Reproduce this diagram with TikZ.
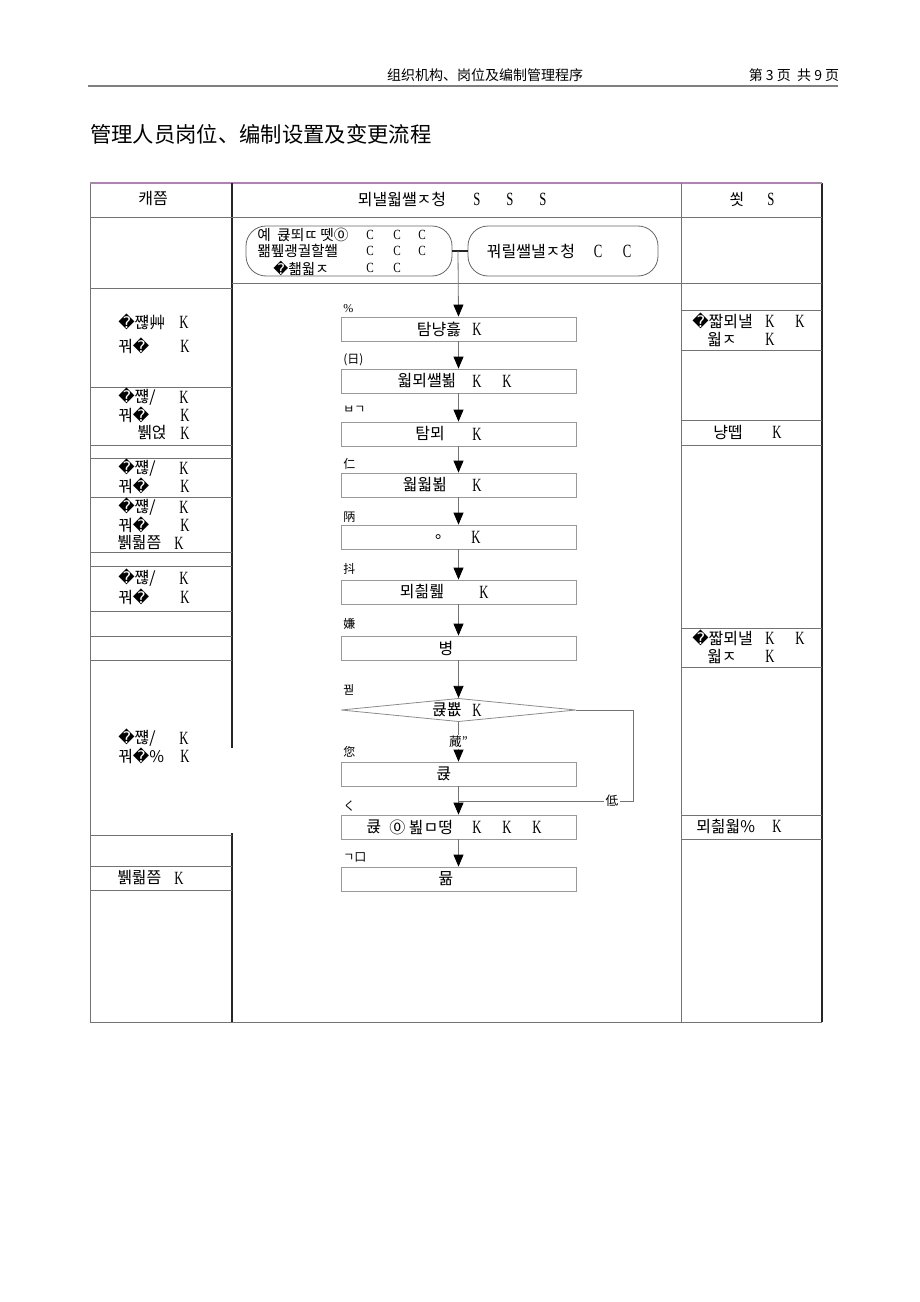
\documentclass[tikz,border=0pt]{standalone}
\usepackage{fontspec}
\usepackage{graphicx}
\setmainfont{Noto Sans CJK KR}
\newfontfamily\zhf{Noto Sans CJK SC}
\newfontfamily\serf{Liberation Serif}
\newfontfamily\dvs{DejaVu Sans}
\usetikzlibrary{arrows.meta,shapes.geometric}
\newcommand\cn[1]{{\serf\fontsize{14}{15}\selectfont\scalebox{0.68}[1]{#1}}}
\newcommand\cs[1]{{\serf\fontsize{10.5}{11}\selectfont\scalebox{0.8}[1]{#1}}}
\newcommand\rpl{{\dvs\symbol{"FFFD}}}
\newcommand\zc{\symbol{"24EA}}
\newcounter{tn}
\newcommand\tx[4][]{\stepcounter{tn}\node[txt,#1] (t\arabic{tn}) at (#2,#3) {#4};}
\definecolor{tbc}{RGB}{175,130,175}
\tikzset{
 txt/.style={inner sep=0pt,font=\fontsize{12}{13}\selectfont},
 ptx/.style={font=\fontsize{11}{12}\selectfont},
 lab/.style={anchor=west,font=\fontsize{9}{10}\selectfont},
 grid/.style={draw=black!55,line width=0.6pt},
 dark/.style={draw=black!85,line width=0.8pt},
 fbox/.style={draw=black!40,line width=0.6pt,minimum width=176.25pt,minimum height=18pt,inner sep=0pt},
 pill/.style={draw=black!60,line width=0.6pt,rounded corners=15pt,inner sep=0pt,minimum height=37.5pt},
 flow/.style={draw=black!55,line width=0.6pt,-{Triangle[length=9pt,width=7.5pt,color=black]}},
 fl/.style={draw=black!55,line width=0.6pt},
}
\begin{document}
\begin{tikzpicture}[x=0.75pt,y=-0.75pt]
\fill[white] (0,0) rectangle (920,1302);
\useasboundingbox (0,0) rectangle (920,1302);
% page header
\node[txt,font=\zhf\fontsize{10.5}{12}\selectfont] (hd) at (485,75) {组织机构、岗位及编制管理程序};
\node[txt,font=\zhf\fontsize{10.5}{12}\selectfont] (pg) at (794,75) {第 3 页\ \ 共 9 页};
\coordinate (hl) at (88,86); \coordinate (hr) at (838,86);
\draw[black!50,line width=1.5pt] (hl) -- (hr);
\node[txt,anchor=west,font=\zhf\fontsize{16}{18}\selectfont] (title) at (90,134) {管理人员岗位、编制设置及变更流程};
% table frame
\draw[grid] (90,183) -- (90,1022) -- (822,1022);
\draw[dark] (822,183) -- (822,1022);
\draw[draw=tbc,line width=0.8pt] (90,183) -- (822,183);
\draw[dark] (232,183) -- (232,748);
\draw[dark] (232,833) -- (232,1022);
\draw[grid] (681,183) -- (681,1022);
\draw[grid] (90,217) -- (822,217);
\draw[grid] (232,283) -- (822,283);
\foreach \y in {288,387,445,458,497,552,566,611,636,660,835,866,890} \draw[grid] (90,\y) -- (232,\y);
\foreach \y in {310,350,420,445,628,667,815,839} \draw[grid] (681,\y) -- (822,\y);
% header row
\tx{153}{199}{캐쯤}
\tx{402}{199}{뫼낼웗쌜ㅈ청}
\tx{477}{199}{\cn{S}}
\tx{510}{199}{\cn{S}}
\tx{543}{199}{\cn{S}}
\tx{737}{199}{쐿}
\tx{771}{199}{\cn{S}}
% pills
\node[pill,minimum width=154.5pt] (p1) at (349,251) {};
\node[pill,minimum width=142.5pt] (p2) at (563,251) {};
\coordinate (j) at (458,251);
\draw[dark] (p1.east) -- (p2.west);
\tx[anchor=west,ptx]{257}{235}{예\hspace{5pt}큕뙤ㄸ\,뗏\zc}
\tx[anchor=west,ptx]{257}{251}{뫪퓊괭궐할쐘}
\tx[anchor=west,ptx]{273}{268}{\rpl 쵊웗ㅈ}
\foreach \xx in {370,397,422} {\tx{\xx}{235}{\cs{C}}}
\foreach \xx in {370,397,422} {\tx{\xx}{251}{\cs{C}}}
\foreach \xx in {370,397} {\tx{\xx}{268}{\cs{C}}}
\tx{531}{251}{꿔릴쌜낼ㅈ청}
\tx{598}{251}{\cn{C}}
\tx{627}{251}{\cn{C}}
% left column texts
\tx[anchor=west]{118}{322}{\rpl 쨶艸}
\tx{184}{322}{\cn{K}}
\tx[anchor=west]{118}{346}{꿔\rpl}
\tx{185}{346}{\cn{K}}
\tx[anchor=west]{118}{397}{\rpl 쨶/}
\tx{184}{397}{\cn{K}}
\tx[anchor=west]{118}{415}{꿔\rpl}
\tx{185}{415}{\cn{K}}
\tx[anchor=west]{137}{433}{뷁얹}
\tx{185}{433}{\cn{K}}
\tx[anchor=west]{118}{468}{\rpl 쨶/}
\tx{184}{468}{\cn{K}}
\tx[anchor=west]{118}{486}{꿔\rpl}
\tx{185}{486}{\cn{K}}
\tx[anchor=west]{118}{507}{\rpl 쨶/}
\tx{184}{507}{\cn{K}}
\tx[anchor=west]{118}{525}{꿔\rpl}
\tx{185}{525}{\cn{K}}
\tx[anchor=west]{117}{543}{뷁뤎쯤}
\tx{179}{543}{\cn{K}}
\tx[anchor=west]{118}{578}{\rpl 쨶/}
\tx{184}{578}{\cn{K}}
\tx[anchor=west]{118}{597}{꿔\rpl}
\tx{185}{597}{\cn{K}}
\tx[anchor=west]{118}{738}{\rpl 쨶/}
\tx{184}{738}{\cn{K}}
\tx[anchor=west]{118}{756}{꿔\rpl\%}
\tx{185}{756}{\cn{K}}
\tx[anchor=west]{117}{878}{뷁뤎쯤}
\tx{179}{878}{\cn{K}}
% right column texts
\tx[anchor=west]{692}{321}{\rpl 짧뫼낼}
\tx{770}{321}{\cn{K}}
\tx{800}{321}{\cn{K}}
\tx[anchor=west]{707}{339}{웗ㅈ}
\tx{770}{339}{\cn{K}}
\tx[anchor=west]{713}{432}{냥뗍}
\tx{777}{432}{\cn{K}}
\tx[anchor=west]{692}{638}{\rpl 짧뫼낼}
\tx{770}{638}{\cn{K}}
\tx{800}{638}{\cn{K}}
\tx[anchor=west]{707}{656}{웗ㅈ}
\tx{770}{656}{\cn{K}}
\tx[anchor=west]{696}{826}{뫼칆웗\%}
\tx{777}{826}{\cn{K}}
% flow boxes
\node[fbox] (b1) at (458.5,329) {};
\node[fbox] (b2) at (458.5,381) {};
\node[fbox] (b3) at (458.5,434) {};
\node[fbox] (b4) at (458.5,485) {};
\node[fbox] (b5) at (458.5,537) {};
\node[fbox] (b6) at (458.5,592) {};
\node[fbox] (b7) at (458.5,648) {};
\node[draw=black!45,line width=0.6pt,diamond,minimum width=176.25pt,minimum height=17.5pt,inner sep=0pt] (dia) at (458.5,710) {};
\node[fbox] (b8) at (458.5,774) {};
\node[fbox] (b9) at (458.5,827) {};
\node[fbox] (b10) at (458.5,879) {};
% box texts
\tx{439}{329}{탐냥흟}
\tx{477}{329}{\cn{K}}
\tx{427}{381}{웗뫼쌜뵒}
\tx{477}{381}{\cn{K}}
\tx{507}{381}{\cn{K}}
\tx{430}{434}{탐뫼}
\tx{477}{434}{\cn{K}}
\tx{425}{485}{웗웗뵒}
\tx{477}{485}{\cn{K}}
\tx{443}{537}{。}
\tx{476}{537}{\cn{K}}
\tx{422}{592}{뫼칆뤮}
\tx{484}{592}{\cn{K}}
\tx{446}{648}{병}
\tx{447}{710}{큕뿂}
\tx{477}{710}{\cn{K}}
\tx{444}{774}{큕}
\tx{374}{827}{큕}
\tx[anchor=west]{389}{827}{\zc\ 뵖ㅁ떵}
\tx{477}{827}{\cn{K}}
\tx{507}{827}{\cn{K}}
\tx{537}{827}{\cn{K}}
\tx{446}{879}{뮮}
% step labels
\tx[lab]{343}{309}{{\serf\%}}
\tx[lab]{343}{360}{(日)}
\tx[lab]{343}{410}{ㅂㄱ}
\tx[lab]{343}{464}{仁}
\tx[lab]{343}{517}{陃}
\tx[lab]{343}{569}{抖}
\tx[lab]{343}{624}{嫌}
\tx[lab]{343}{690}{꿛}
\tx[lab]{343}{752}{您}
\tx[lab]{343}{806}{く}
\tx[lab]{343}{857}{ㄱ口}
% connectors
\draw[flow] (j) -- (b1.north);
\draw[flow] (b1.south) -- (b2.north);
\draw[flow] (b2.south) -- (b3.north);
\draw[flow] (b3.south) -- (b4.north);
\draw[flow] (b4.south) -- (b5.north);
\draw[flow] (b5.south) -- (b6.north);
\draw[flow] (b6.south) -- (b7.north);
\draw[flow] (b7.south) -- (dia.north);
\draw[flow] (dia.south) -- node[txt,fill=white,inner sep=1pt,font=\fontsize{9.5}{10}\selectfont] (yes) {蕆”} (b8.north);
\draw[flow] (b8.south) -- (b9.north);
\draw[flow] (b9.south) -- (b10.north);
\coordinate (f1) at (633,710);
\coordinate (f2) at (633,801);
\coordinate (f3) at (458.5,801);
\draw[fl] (dia.east) -- (f1) -- (f2) -- node[pos=0.12,txt,fill=white,inner sep=1.5pt,font=\fontsize{9.5}{10}\selectfont] (no) {低} (f3);
\end{tikzpicture}
\end{document}
